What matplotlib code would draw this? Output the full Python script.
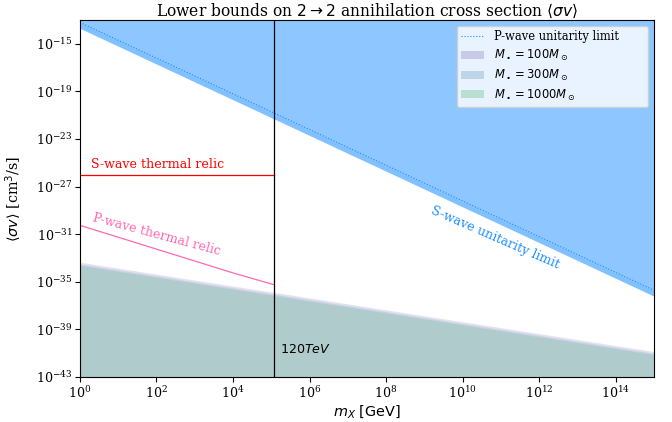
import matplotlib
matplotlib.use("Agg")
import matplotlib.pyplot as plt
from matplotlib.lines import Line2D
from matplotlib.patches import Patch
from matplotlib.ticker import NullLocator

plt.rcParams['font.family'] = 'serif'
plt.rcParams['xtick.labelsize'] = 9.1
plt.rcParams['ytick.labelsize'] = 9.1
plt.rcParams['xtick.major.pad'] = 2
plt.rcParams['ytick.major.pad'] = 2

# dark matter mass grid [GeV]
m = [1e0, 1e3, 1e6, 1e9, 1e12, 1e15]

# unitarity limits <sigma v> [cm^3/s]
swave_unit = [2.0e-14, 6.3e-19, 2.0e-23, 6.3e-28, 2.0e-32, 6.3e-37]
pwave_unit = [6.3e-14, 2.0e-18, 6.3e-23, 2.0e-27, 6.3e-32, 2.0e-36]

# lower bounds for the three black hole masses
bound_100 = [4.5e-34, 1.4e-35, 4.5e-37, 1.4e-38, 4.5e-40, 1.4e-41]
bound_300 = [3.2e-34, 1.0e-35, 3.2e-37, 1.0e-38, 3.2e-40, 1.0e-41]
bound_1000 = [2.4e-34, 7.6e-36, 2.4e-37, 7.6e-39, 2.4e-40, 7.6e-42]
bh_labels = [r'$M_\bullet=100M_\odot$', r'$M_\bullet=300M_\odot$', r'$M_\bullet=1000M_\odot$']
bh_colors = ['#7b6fb0', '#5b8db8', '#4fb36e']

# thermal relics (drawn up to 120 TeV)
relic_m = [1e0, 1e2, 1e4, 1.2e5]
swave_relic = [9e-27, 9e-27, 9e-27, 9e-27]
pwave_relic = [5.6e-31, 5.6e-33, 5.6e-35, 5.6e-36]
m_cut = 1.2e5

fig = plt.figure(figsize=(6.72, 4.22), dpi=100)
ax = fig.add_axes([0.119, 0.1066, 0.854, 0.846])

# blue excluded region above unitarity
ax.fill_between(m, swave_unit, 1e-5, color='dodgerblue', alpha=0.5, lw=0)
ax.fill_between(m, swave_unit, pwave_unit, color='dodgerblue', alpha=0.1, lw=0)
ax.plot(m, pwave_unit, ':', color='dodgerblue', lw=0.8)

for b, c in zip([bound_100, bound_300, bound_1000], bh_colors):
    ax.fill_between(m, 1e-50, b, color=c, alpha=0.2, lw=0)

ax.plot(relic_m, swave_relic, color='red', lw=0.9)
ax.plot(relic_m, pwave_relic, color='hotpink', lw=0.9)
ax.axvline(m_cut, color='black', lw=0.9)

ax.text(2.0, 3.5e-26, 'S-wave thermal relic', color='red', fontsize=9.1)
ax.text(2.06, 1.2e-30, 'P-wave thermal relic', color='hotpink', fontsize=9.1,
        rotation=-15, rotation_mode='anchor')
ax.text(10**9.16, 10**-29.2, 'S-wave unitarity limit', color='dodgerblue', fontsize=9.1,
        rotation=-23.5, rotation_mode='anchor')
ax.text(1.65e5, 10**-40.97, r'$120 TeV$', fontsize=9.1)

ax.set_xscale('log')
ax.set_yscale('log')
ax.set_xlim(1, 1e15)
ax.set_ylim(1e-43, 1e-13)
ax.set_xticks([10.0**k for k in range(0, 15, 2)])
ax.set_yticks([10.0**k for k in range(-43, -14, 4)])
ax.xaxis.set_minor_locator(NullLocator())
ax.yaxis.set_minor_locator(NullLocator())

ax.set_xlabel(r'$m_X\ [\mathrm{GeV}]$', fontsize=10.4, labelpad=2)
ax.set_ylabel(r'$\langle\sigma v\rangle$ [cm$^3$/s]', fontsize=10.4)
ax.yaxis.set_label_coords(-0.098, 0.5)
ax.set_title(r'Lower bounds on $2\to 2$ annihilation cross section $\langle\sigma v\rangle$',
             fontsize=11.2, pad=2)

handles = [Line2D([], [], ls=':', color='dodgerblue', lw=0.8, label='P-wave unitarity limit')]
for lab, c in zip(bh_labels, bh_colors):
    handles.append(Patch(facecolor=c, alpha=0.3, label=lab))
ax.legend(handles=handles, loc='upper right', fontsize=8.3, mode='expand',
          bbox_to_anchor=(0.6466, 0.0, 0.3534, 1.0), labelspacing=0.4)

fig.savefig('out.png', dpi=100)
